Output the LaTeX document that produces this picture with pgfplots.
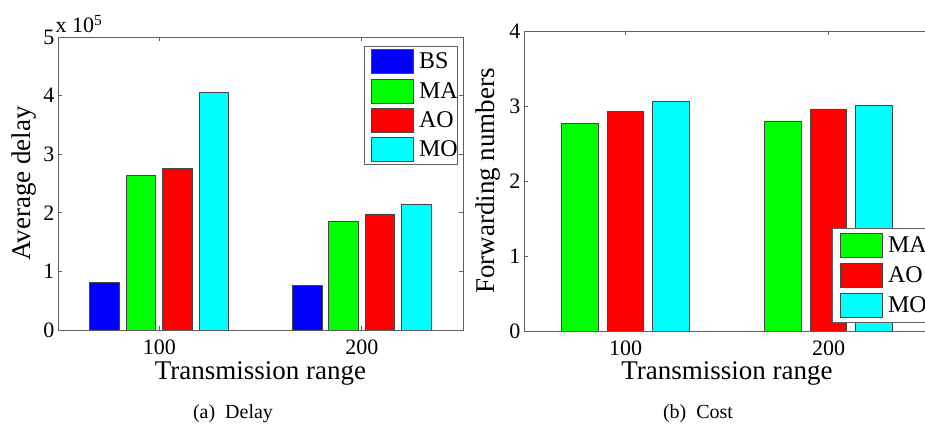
\documentclass[border=0pt]{standalone}
\usepackage{fontspec}
\setmainfont{Liberation Serif}
\usepackage{pgfplots}
\pgfplotsset{compat=1.18}
\definecolor{edge}{RGB}{70,70,70}
\definecolor{axc}{RGB}{95,95,95}
\definecolor{cBS}{RGB}{0,0,255}
\definecolor{cMA}{RGB}{0,255,0}
\definecolor{cAO}{RGB}{255,0,0}
\definecolor{cMO}{RGB}{0,255,255}
\pgfplotsset{
  mybar/.style n args={3}{ybar, bar width=#2, bar shift=#3, fill=#1, draw=edge, line width=0.7pt,
    legend image code/.code={\draw[fill=#1, draw=edge, line width=0.7pt] (0pt,-12pt) rectangle (42pt,12pt);}},
  common/.style={
    scale only axis, anchor=south west,
    xmin=50, xmax=250, xtick={100,200}, ymin=0,
    axis line style={axc, line width=0.8pt},
    every tick/.style={axc, line width=0.8pt},
    major tick length=4pt, tick align=inside,
    /pgf/number format/assume math mode=true,
    ticklabel style={font=\fontsize{22}{22}\selectfont},
    xticklabel style={inner sep=0pt, yshift=-10pt},
    yticklabel style={inner sep=0pt, xshift=-3.5pt},
    label style={font=\fontsize{27}{27}\selectfont},
    legend style={draw=axc, line width=0.8pt, font=\fontsize{24}{24}\selectfont,
      nodes={inner sep=0pt}, column sep=5pt, row sep=4.5pt, inner xsep=7pt, inner ysep=3pt},
  },
}
\begin{document}
\begin{tikzpicture}
\path[use as bounding box] (0pt,0pt) rectangle (925pt,428pt);
\clip (0pt,0pt) rectangle (925pt,428pt);
% ---------- (a) Delay ----------
\begin{axis}[common,
  at={(58pt,98pt)}, width=405pt, height=293pt,
  ymax=500000, ytick={0,100000,200000,300000,400000,500000},
  scaled y ticks=base 10:-5,
  ytick scale label code/.code={x 10\textsuperscript{5}},
  every y tick scale label/.style={at={(axis description cs:0,1)}, anchor=base west,
    yshift=4pt, xshift=1pt, inner sep=0pt, font=\fontsize{22}{22}\selectfont},
  xlabel={Transmission range}, ylabel={Average delay},
  xlabel style={at={(axis description cs:0.5,-0.1706)}, anchor=base},
  ylabel style={at={(axis description cs:-0.0691,0.5)}, anchor=base},
  legend style={at={(axis description cs:0.7556,0.9693)}, anchor=north west},
]
\addplot[mybar={cBS}{14.6}{-27}] coordinates {(100,81000) (200,76000)};
\addplot[mybar={cMA}{14.6}{-9}] coordinates {(100,264000) (200,186000)};
\addplot[mybar={cAO}{14.6}{9}] coordinates {(100,275000) (200,198000)};
\addplot[mybar={cMO}{14.6}{27}] coordinates {(100,405000) (200,214000)};
\legend{\makebox[31.5pt][l]{BS},\makebox[31.5pt][l]{MA},\makebox[31.5pt][l]{AO},\makebox[31.5pt][l]{MO}}
\end{axis}
% ---------- (b) Cost ----------
\begin{axis}[common,
  at={(524pt,97pt)}, width=406pt, height=300pt,
  ymax=4, ytick={0,1,2,3,4},
  xlabel={Transmission range}, ylabel={Forwarding numbers},
  xlabel style={at={(axis description cs:0.5,-0.163)}, anchor=base},
  ylabel style={at={(axis description cs:-0.0739,0.5)}, anchor=base},
  legend style={at={(axis description cs:0.7586,0.0267)}, anchor=south west, row sep=5.3pt, inner xsep=8pt, inner ysep=4.5pt},
]
\addplot[mybar={cMA}{18}{-22.4}] coordinates {(100,2.77) (200,2.80)};
\addplot[mybar={cAO}{18}{0}] coordinates {(100,2.93) (200,2.96)};
\addplot[mybar={cMO}{18}{22.4}] coordinates {(100,3.06) (200,3.01)};
\legend{\makebox[40pt][l]{MA},\makebox[40pt][l]{AO},\makebox[40pt][l]{MO}}
\end{axis}
\node[anchor=base, font=\fontsize{20}{20}\selectfont] at (233pt,10pt) {(a)\ \ Delay};
\node[anchor=base, font=\fontsize{20}{20}\selectfont] at (698pt,10pt) {(b)\ \ Cost};
\end{tikzpicture}
\end{document}
